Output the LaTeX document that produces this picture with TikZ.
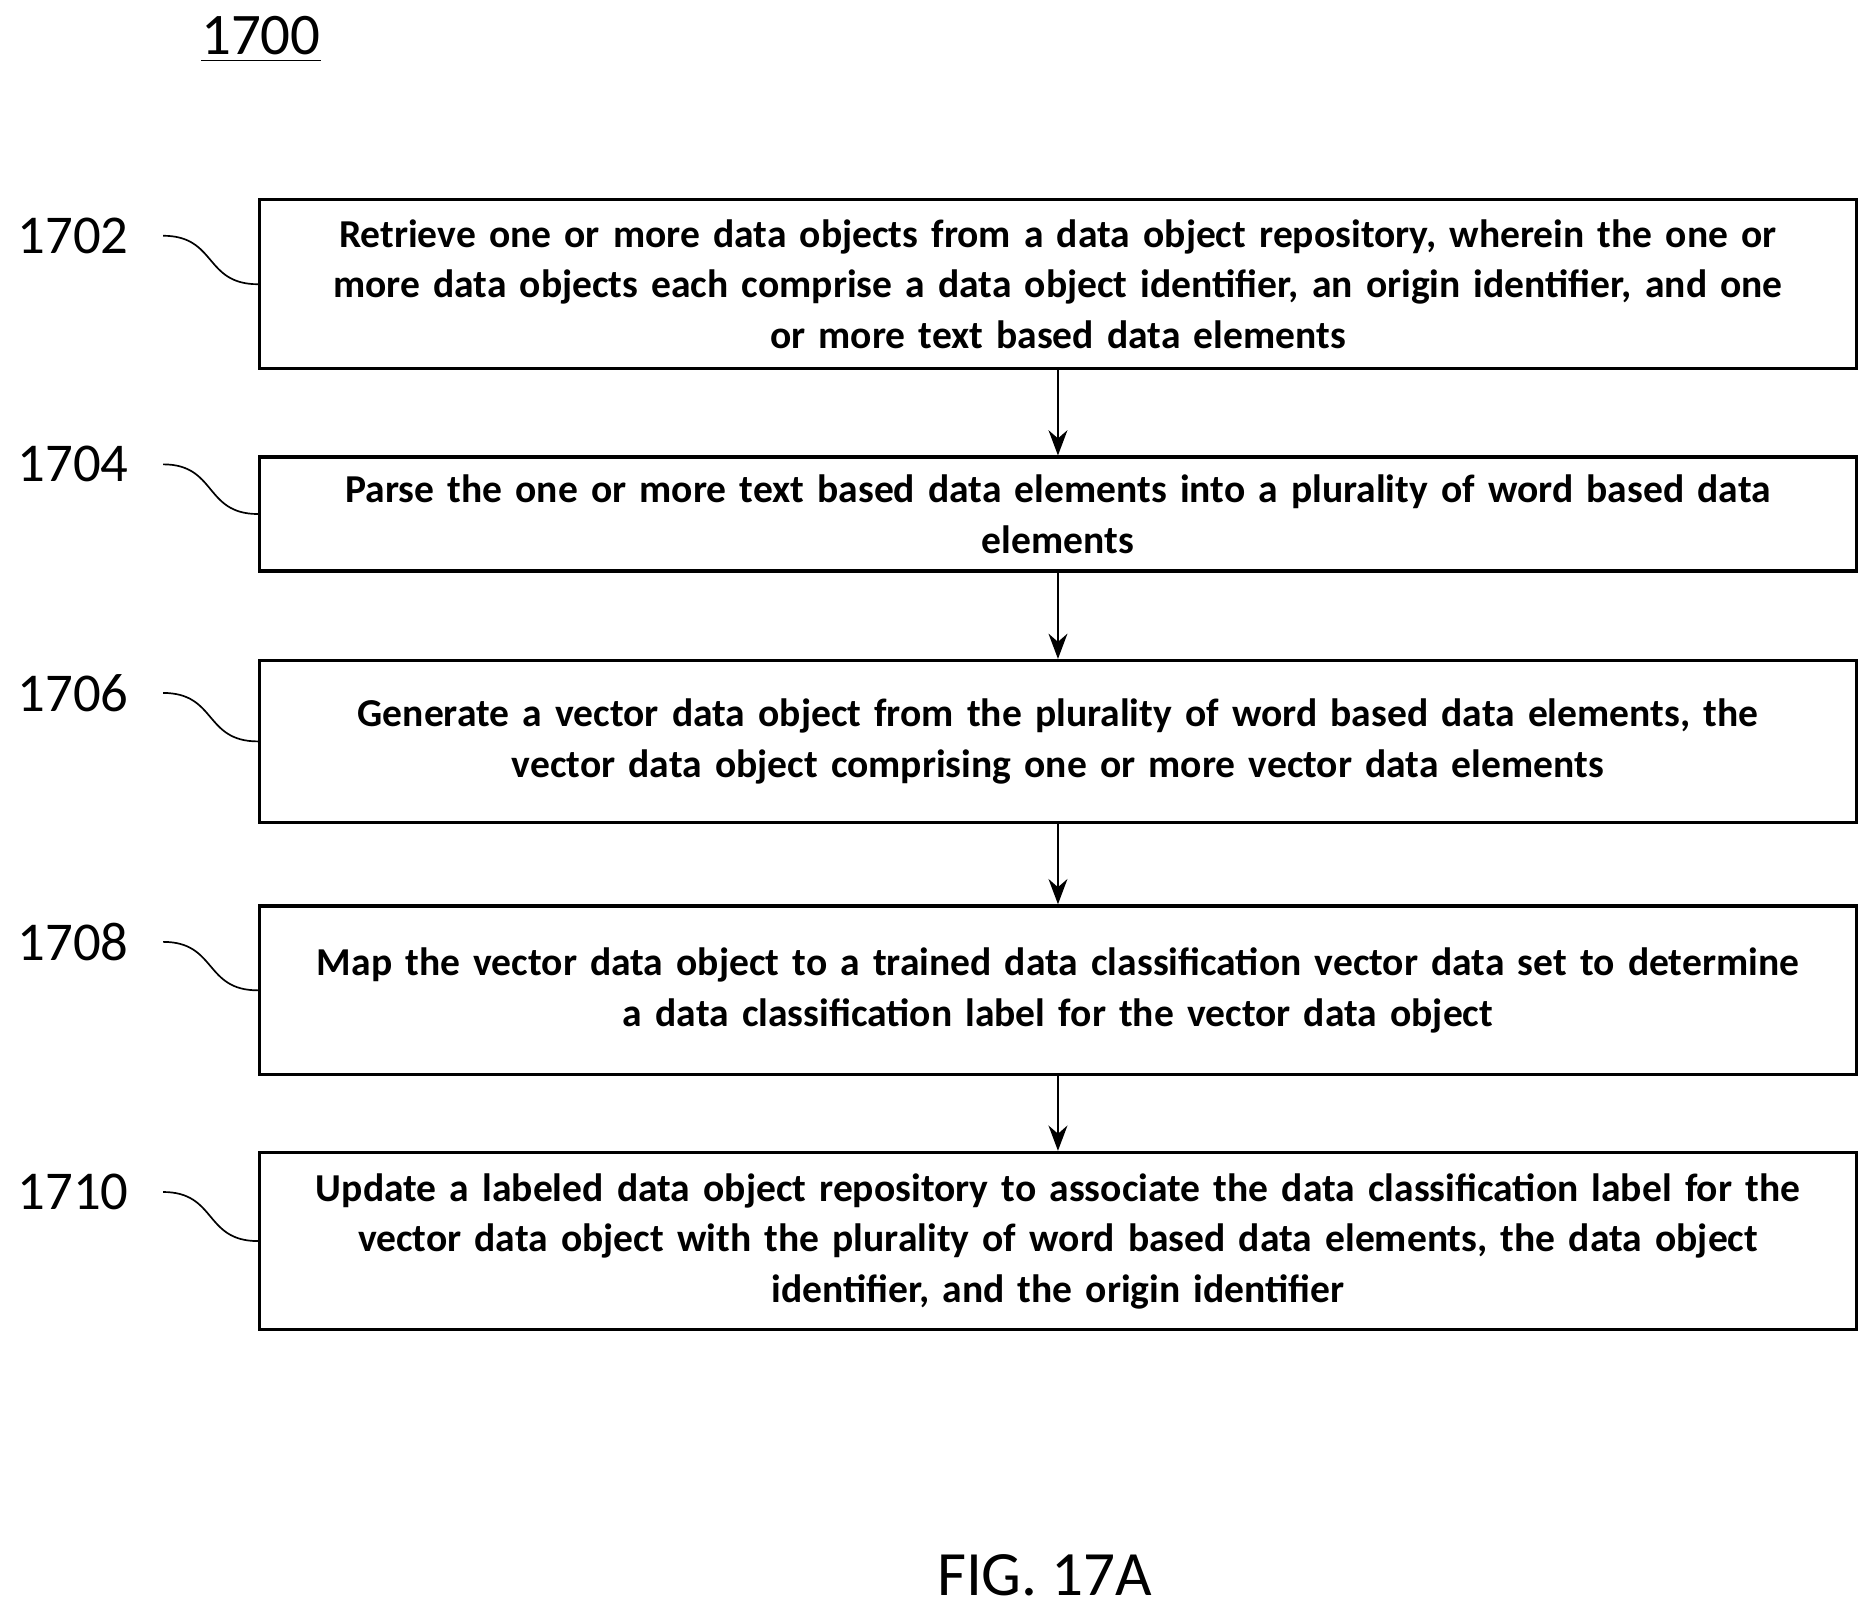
\documentclass[tikz,border=0pt]{standalone}
\usepackage{fontspec}
\setmainfont{Carlito}
\usetikzlibrary{positioning}
\usetikzlibrary{arrows.meta}

\tikzset{
	stepbox/.style={draw, thick, rectangle, minimum width=13.24cm, text width=13.1cm, align=center, font=\bfseries\fontsize{9.4}{12}\selectfont},
	tag/.style={font=\fontsize{13}{15}\selectfont, anchor=west, inner sep=0pt},
	flow/.style={-{Stealth[length=6pt]}, thin},
	wave/.style={thin}
}

\begin{document}
\begin{tikzpicture}[x=0.01cm, y=-0.01cm]
			\useasboundingbox (0,0) rectangle (1560,1346);

			\node[font=\fontsize{14}{16}\selectfont] (title) at (218,33) {\underline{1700}};

			\node[stepbox, minimum height=1.41cm] (1) at (884,237.5) {Retrieve one or more data objects from a data object repository, wherein the one or\\ more data objects each comprise a data object identifier, an origin identifier, and one\\ or more text based data elements};
			\node[stepbox, minimum height=0.95cm] (2) at (884,429.5) {Parse the one or more text based data elements into a plurality of word based data\\ elements};
			\node[stepbox, minimum height=1.35cm] (3) at (884,619.5) {Generate a vector data object from the plurality of word based data elements, the\\ vector data object comprising one or more vector data elements};
			\node[stepbox, minimum height=1.41cm] (4) at (884,827.5) {Map the vector data object to a trained data classification vector data set to determine\\ a data classification label for the vector data object};
			\node[stepbox, minimum height=1.48cm] (5) at (884,1037) {Update a labeled data object repository to associate the data classification label for the\\ vector data object with the plurality of word based data elements, the data object\\ identifier, and the origin identifier};

			\node[tag] (l1) at (14,197) {1702};
			\node[tag] (l2) at (14,388) {1704};
			\node[tag] (l3) at (14,579) {1706};
			\node[tag] (l4) at (14,787) {1708};
			\node[tag] (l5) at (14,996) {1710};

			\foreach \i in {1,...,5}
				\draw[wave] ([xshift=8pt]l\i.east) .. controls +(45,0) and +(-45,0) .. (\i.west);

			\draw[flow] (1) -- (2);
			\draw[flow] (2) -- (3);
			\draw[flow] (3) -- (4);
			\draw[flow] (4) -- (5);

			\node[font=\fontsize{15}{17}\selectfont] (fig) at (873,1316) {FIG. 17A};
\end{tikzpicture}
\end{document}
